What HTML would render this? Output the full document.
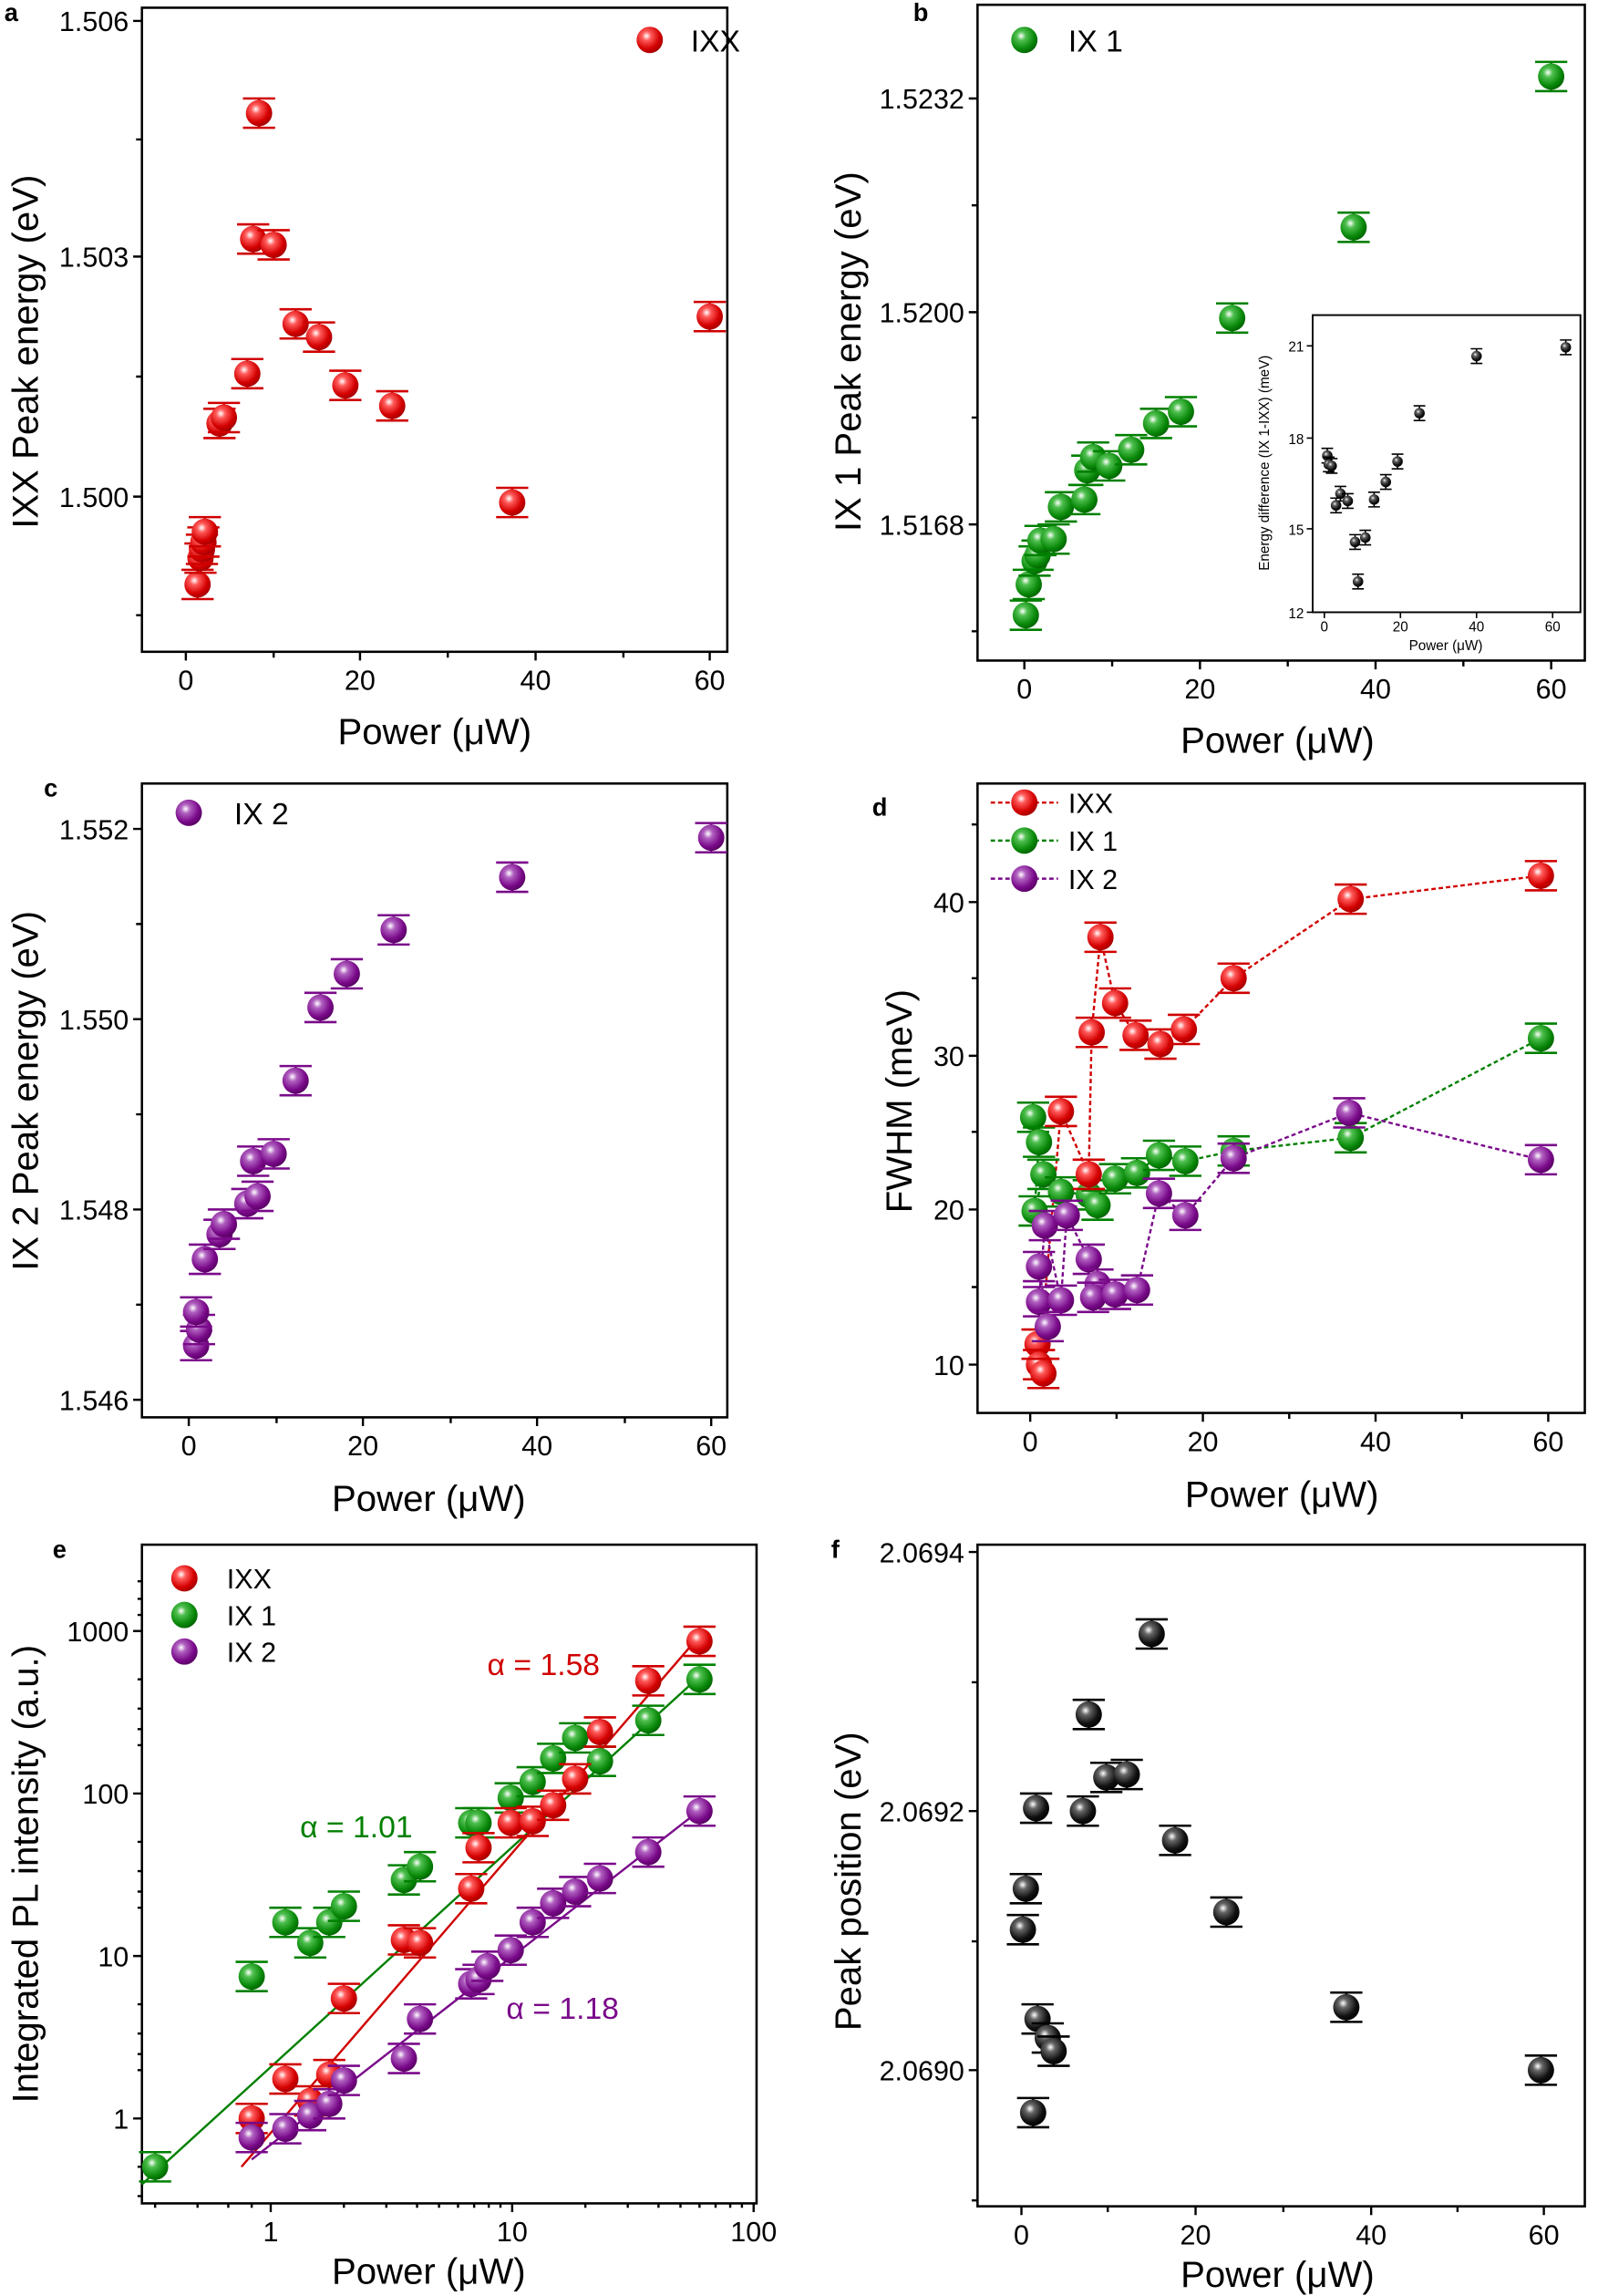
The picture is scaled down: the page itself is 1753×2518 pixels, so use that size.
<!DOCTYPE html>
<html><head><meta charset="utf-8"><style>
html,body{margin:0;padding:0;background:#fff}
svg{display:block}
text{font-family:"Liberation Sans",Arial,sans-serif;fill:#000}
</style></head><body>
<svg width="1753" height="2518" viewBox="0 0 1092 1568" xmlns="http://www.w3.org/2000/svg">
<defs>
<radialGradient id="gR" cx="0.38" cy="0.35" r="0.7"><stop offset="0" stop-color="#fff"/><stop offset="0.25" stop-color="#ff5a5a"/><stop offset="0.7" stop-color="#d40000"/><stop offset="1" stop-color="#a00000"/></radialGradient>
<radialGradient id="gG" cx="0.38" cy="0.35" r="0.7"><stop offset="0" stop-color="#fff"/><stop offset="0.25" stop-color="#4fbf4f"/><stop offset="0.7" stop-color="#0a8a0a"/><stop offset="1" stop-color="#006000"/></radialGradient>
<radialGradient id="gP" cx="0.38" cy="0.35" r="0.7"><stop offset="0" stop-color="#fff"/><stop offset="0.25" stop-color="#b060c0"/><stop offset="0.7" stop-color="#7a0a8a"/><stop offset="1" stop-color="#55005f"/></radialGradient>
<radialGradient id="gK" cx="0.38" cy="0.35" r="0.7"><stop offset="0" stop-color="#fff"/><stop offset="0.25" stop-color="#666"/><stop offset="0.7" stop-color="#111"/><stop offset="1" stop-color="#000"/></radialGradient>
<g id="bR"><path d="M-11,-10h22M0,-10v20M-11,10h22" stroke="#d00000" stroke-width="1.6" fill="none"/><circle r="9" fill="url(#gR)"/></g>
<g id="bG"><path d="M-11,-10h22M0,-10v20M-11,10h22" stroke="#008000" stroke-width="1.6" fill="none"/><circle r="9" fill="url(#gG)"/></g>
<g id="bP"><path d="M-11,-10h22M0,-10v20M-11,10h22" stroke="#7a0a8a" stroke-width="1.6" fill="none"/><circle r="9" fill="url(#gP)"/></g>
<g id="bK"><path d="M-11,-10h22M0,-10v20M-11,10h22" stroke="#000" stroke-width="1.6" fill="none"/><circle r="9" fill="url(#gK)"/></g>
<g id="sK"><path d="M-4,-5h8M0,-5v10M-4,5h8" stroke="#000" stroke-width="1" fill="none"/><circle r="3.6" fill="url(#gK)"/></g>
<circle id="lR" r="9" fill="url(#gR)"/><circle id="lG" r="9" fill="url(#gG)"/><circle id="lP" r="9" fill="url(#gP)"/>
</defs>
<g stroke="#000" stroke-width="1.6" fill="none">
<rect x="97" y="5" width="400" height="440"/>
<rect x="668" y="3" width="415" height="448"/>
<rect x="97" y="535" width="400" height="433"/>
<rect x="668" y="535" width="415" height="430"/>
<rect x="97" y="1055" width="420" height="450"/>
<rect x="668" y="1055" width="415" height="452"/>
<rect x="897" y="215" width="183" height="203" stroke-width="1.2"/>
</g>
<g stroke="#000" stroke-width="1.5">
<path d="M127,445v6M246,445v6M366,445v6M485,445v6M187,445v4M306,445v4M426,445v4M97,14h-6M97,175h-6M97,339h-6M97,95h-4M97,257h-4M97,420h-4"/>
<path d="M700,451v6M820,451v6M940,451v6M1060,451v6M760,451v4M880,451v4M1000,451v4M668,67h-6M668,213h-6M668,358h-6M668,140h-4M668,285h-4M668,431h-4"/>
<path d="M905,418v4M957,418v4M1009,418v4M1061,418v4M897,236h-4M897,299h-4M897,361h-4M897,418h-4" stroke-width="1"/>
<path d="M129,968v6M248,968v6M367,968v6M486,968v6M189,968v4M308,968v4M427,968v4M97,566h-6M97,696h-6M97,826h-6M97,956h-6M97,631h-4M97,761h-4M97,891h-4"/>
<path d="M704,965v6M822,965v6M940,965v6M1058,965v6M763,965v4M881,965v4M999,965v4M668,616h-6M668,721h-6M668,826h-6M668,932h-6M668,563h-4M668,668h-4M668,773h-4M668,879h-4"/>
<path d="M185,1505v6M350,1505v6M515,1505v6M106,1505v3M135,1505v3M156,1505v3M172,1505v3M235,1505v3M264,1505v3M285,1505v3M300,1505v3M313,1505v3M324,1505v3M334,1505v3M342,1505v3M400,1505v3M429,1505v3M450,1505v3M465,1505v3M478,1505v3M489,1505v3M499,1505v3M507,1505v3M97,1114h-6M97,1225h-6M97,1336h-6M97,1447h-6M97,1080h-3M97,1092h-3M97,1103h-3M97,1147h-3M97,1167h-3M97,1181h-3M97,1192h-3M97,1258h-3M97,1278h-3M97,1292h-3M97,1303h-3M97,1369h-3M97,1389h-3M97,1403h-3M97,1414h-3M97,1480h-3M97,1500h-3"/>
<path d="M698,1507v6M817,1507v6M937,1507v6M1055,1507v6M757,1507v4M877,1507v4M996,1507v4M668,1060h-6M668,1237h-6M668,1414h-6M668,1149h-4M668,1326h-4M668,1503h-4"/>
</g>
<g font-size="19" text-anchor="middle">
<text x="127" y="471">0</text><text x="246" y="471">20</text><text x="366" y="471">40</text><text x="485" y="471">60</text>
<text x="700" y="477">0</text><text x="820" y="477">20</text><text x="940" y="477">40</text><text x="1060" y="477">60</text>
<text x="129" y="994">0</text><text x="248" y="994">20</text><text x="367" y="994">40</text><text x="486" y="994">60</text>
<text x="704" y="991">0</text><text x="822" y="991">20</text><text x="940" y="991">40</text><text x="1058" y="991">60</text>
<text x="185" y="1531">1</text><text x="350" y="1531">10</text><text x="515" y="1531">100</text>
<text x="698" y="1533">0</text><text x="817" y="1533">20</text><text x="937" y="1533">40</text><text x="1055" y="1533">60</text>
</g>
<g font-size="19" text-anchor="end">
<text x="88" y="21">1.506</text><text x="88" y="182">1.503</text><text x="88" y="346">1.500</text>
<text x="659" y="74">1.5232</text><text x="659" y="220">1.5200</text><text x="659" y="365">1.5168</text>
<text x="88" y="573">1.552</text><text x="88" y="703">1.550</text><text x="88" y="833">1.548</text><text x="88" y="963">1.546</text>
<text x="659" y="623">40</text><text x="659" y="728">30</text><text x="659" y="833">20</text><text x="659" y="939">10</text>
<text x="88" y="1121">1000</text><text x="88" y="1232">100</text><text x="88" y="1343">10</text><text x="88" y="1454">1</text>
<text x="659" y="1067">2.0694</text><text x="659" y="1244">2.0692</text><text x="659" y="1421">2.0690</text>
</g>
<g font-size="9.5">
<text x="905" y="431" text-anchor="middle">0</text><text x="957" y="431" text-anchor="middle">20</text><text x="1009" y="431" text-anchor="middle">40</text><text x="1061" y="431" text-anchor="middle">60</text>
<text x="891" y="240" text-anchor="end">21</text><text x="891" y="303" text-anchor="end">18</text><text x="891" y="365" text-anchor="end">15</text><text x="891" y="422" text-anchor="end">12</text>
<text x="988" y="444" text-anchor="middle">Power (μW)</text>
<text transform="translate(867,316) rotate(-90)" text-anchor="middle">Energy difference (IX 1-IXX) (meV)</text>
</g>
<g font-size="25" text-anchor="middle">
<text x="297" y="508">Power (μW)</text>
<text x="873" y="514">Power (μW)</text>
<text x="293" y="1032">Power (μW)</text>
<text x="876" y="1029">Power (μW)</text>
<text x="293" y="1560">Power (μW)</text>
<text x="873" y="1562">Power (μW)</text>
<text transform="translate(26,240) rotate(-90)">IXX Peak energy (eV)</text>
<text transform="translate(588,240) rotate(-90)">IX 1 Peak energy (eV)</text>
<text transform="translate(26,745) rotate(-90)">IX 2 Peak energy (eV)</text>
<text transform="translate(623,752) rotate(-90)">FWHM (meV)</text>
<text transform="translate(26,1280) rotate(-90)">Integrated PL intensity (a.u.)</text>
<text transform="translate(588,1285) rotate(-90)">Peak position (eV)</text>
</g>
<g font-size="17" font-weight="bold">
<text x="3" y="14">a</text><text x="624" y="14">b</text><text x="30" y="544">c</text><text x="596" y="557">d</text><text x="36" y="1064">e</text><text x="568" y="1064">f</text>
</g>
<use href="#lR" x="444" y="27"/><text x="472" y="35" font-size="21">IXX</text>
<use href="#lG" x="700" y="27"/><text x="730" y="35" font-size="21">IX 1</text>
<use href="#lP" x="129" y="555"/><text x="160" y="563" font-size="21">IX 2</text>
<path d="M677,548h46" stroke="#d00000" stroke-width="1.5" stroke-dasharray="3,2"/><use href="#lR" x="700" y="548"/><text x="730" y="555" font-size="19">IXX</text>
<path d="M677,574h46" stroke="#008000" stroke-width="1.5" stroke-dasharray="3,2"/><use href="#lG" x="700" y="574"/><text x="730" y="581" font-size="19">IX 1</text>
<path d="M677,600h46" stroke="#7a0a8a" stroke-width="1.5" stroke-dasharray="3,2"/><use href="#lP" x="700" y="600"/><text x="730" y="607" font-size="19">IX 2</text>
<use href="#lR" x="126" y="1078"/><text x="155" y="1085" font-size="19">IXX</text>
<use href="#lG" x="126" y="1103"/><text x="155" y="1110" font-size="19">IX 1</text>
<use href="#lP" x="126" y="1128"/><text x="155" y="1135" font-size="19">IX 2</text>
<use href="#bR" x="135" y="399"/><use href="#bR" x="137" y="381"/><use href="#bR" x="138" y="375"/><use href="#bR" x="139" y="370"/><use href="#bR" x="140" y="363"/><use href="#bR" x="150" y="289"/><use href="#bR" x="153" y="285"/><use href="#bR" x="169" y="255"/><use href="#bR" x="177" y="77"/><use href="#bR" x="173" y="163"/><use href="#bR" x="187" y="167"/><use href="#bR" x="202" y="221"/><use href="#bR" x="218" y="230"/><use href="#bR" x="236" y="263"/><use href="#bR" x="268" y="277"/><use href="#bR" x="350" y="343"/><use href="#bR" x="485" y="216"/>
<use href="#bG" x="701" y="420"/><use href="#bG" x="703" y="399"/><use href="#bG" x="707" y="383"/><use href="#bG" x="709" y="379"/><use href="#bG" x="711" y="369"/><use href="#bG" x="720" y="368"/><use href="#bG" x="725" y="346"/><use href="#bG" x="741" y="341"/><use href="#bG" x="743" y="321"/><use href="#bG" x="747" y="312"/><use href="#bG" x="758" y="318"/><use href="#bG" x="773" y="307"/><use href="#bG" x="790" y="289"/><use href="#bG" x="807" y="281"/><use href="#bG" x="842" y="217"/><use href="#bG" x="925" y="155"/><use href="#bG" x="1060" y="52"/>
<use href="#sK" x="907" y="311"/><use href="#sK" x="908" y="317"/><use href="#sK" x="910" y="318"/><use href="#sK" x="916" y="337"/><use href="#sK" x="913" y="345"/><use href="#sK" x="921" y="342"/><use href="#sK" x="926" y="370"/><use href="#sK" x="928" y="397"/><use href="#sK" x="933" y="367"/><use href="#sK" x="939" y="341"/><use href="#sK" x="947" y="329"/><use href="#sK" x="955" y="315"/><use href="#sK" x="970" y="282"/><use href="#sK" x="1009" y="243"/><use href="#sK" x="1070" y="237"/>
<use href="#bP" x="134" y="919"/><use href="#bP" x="136" y="908"/><use href="#bP" x="134" y="896"/><use href="#bP" x="140" y="860"/><use href="#bP" x="150" y="843"/><use href="#bP" x="153" y="836"/><use href="#bP" x="169" y="822"/><use href="#bP" x="176" y="817"/><use href="#bP" x="173" y="793"/><use href="#bP" x="187" y="788"/><use href="#bP" x="202" y="738"/><use href="#bP" x="219" y="688"/><use href="#bP" x="237" y="665"/><use href="#bP" x="269" y="635"/><use href="#bP" x="350" y="599"/><use href="#bP" x="486" y="572"/>
<g fill="none" stroke-width="1.5" stroke-dasharray="3,2">
<polyline stroke="#d00000" points="709,918 713,938 710,932 725,759 744,802 746,705 752,640 762,685 776,707 793,713 809,703 843,668 923,614 1053,598"/>
<polyline stroke="#008000" points="706,763 710,780 707,827 713,802 725,814 744,816 750,823 762,805 777,801 792,789 810,793 843,786 923,777 1053,709"/>
<polyline stroke="#7a0a8a" points="710,865 716,906 710,889 714,837 725,888 729,830 744,860 747,886 750,877 762,884 777,881 792,815 810,830 843,791 922,760 1053,792"/>
</g>
<use href="#bG" x="706" y="763"/><use href="#bG" x="710" y="780"/><use href="#bG" x="713" y="802"/><use href="#bG" x="725" y="814"/><use href="#bG" x="707" y="827"/><use href="#bG" x="744" y="816"/><use href="#bG" x="750" y="823"/><use href="#bG" x="762" y="805"/><use href="#bG" x="777" y="801"/><use href="#bG" x="792" y="789"/><use href="#bG" x="810" y="793"/><use href="#bG" x="843" y="786"/><use href="#bG" x="923" y="777"/><use href="#bG" x="1053" y="709"/>
<use href="#bR" x="709" y="918"/><use href="#bR" x="710" y="932"/><use href="#bR" x="713" y="938"/><use href="#bR" x="725" y="759"/><use href="#bR" x="744" y="802"/><use href="#bR" x="746" y="705"/><use href="#bR" x="752" y="640"/><use href="#bR" x="762" y="685"/><use href="#bR" x="776" y="707"/><use href="#bR" x="793" y="713"/><use href="#bR" x="809" y="703"/><use href="#bR" x="843" y="668"/><use href="#bR" x="923" y="614"/><use href="#bR" x="1053" y="598"/>
<use href="#bP" x="714" y="837"/><use href="#bP" x="710" y="865"/><use href="#bP" x="710" y="889"/><use href="#bP" x="725" y="888"/><use href="#bP" x="716" y="906"/><use href="#bP" x="729" y="830"/><use href="#bP" x="744" y="860"/><use href="#bP" x="750" y="877"/><use href="#bP" x="747" y="886"/><use href="#bP" x="762" y="884"/><use href="#bP" x="777" y="881"/><use href="#bP" x="792" y="815"/><use href="#bP" x="810" y="830"/><use href="#bP" x="843" y="791"/><use href="#bP" x="922" y="760"/><use href="#bP" x="1053" y="792"/>
<g stroke-width="1.5" fill="none">
<line x1="97" y1="1492" x2="478" y2="1145" stroke="#008000"/>
<line x1="165" y1="1480" x2="480" y2="1115" stroke="#d00000"/>
<line x1="172" y1="1475" x2="480" y2="1235" stroke="#7a0a8a"/>
</g>
<use href="#bG" x="106" y="1480"/><use href="#bG" x="172" y="1350"/><use href="#bG" x="195" y="1313"/><use href="#bG" x="212" y="1327"/><use href="#bG" x="225" y="1313"/><use href="#bG" x="235" y="1302"/><use href="#bG" x="276" y="1284"/><use href="#bG" x="287" y="1275"/><use href="#bG" x="322" y="1245"/><use href="#bG" x="327" y="1245"/><use href="#bG" x="349" y="1228"/><use href="#bG" x="364" y="1217"/><use href="#bG" x="378" y="1201"/><use href="#bG" x="393" y="1187"/><use href="#bG" x="410" y="1203"/><use href="#bG" x="443" y="1175"/><use href="#bG" x="478" y="1147"/>
<use href="#bR" x="172" y="1447"/><use href="#bR" x="195" y="1420"/><use href="#bR" x="212" y="1435"/><use href="#bR" x="225" y="1417"/><use href="#bR" x="235" y="1365"/><use href="#bR" x="276" y="1325"/><use href="#bR" x="287" y="1327"/><use href="#bR" x="322" y="1290"/><use href="#bR" x="327" y="1262"/><use href="#bR" x="349" y="1245"/><use href="#bR" x="364" y="1244"/><use href="#bR" x="378" y="1233"/><use href="#bR" x="393" y="1215"/><use href="#bR" x="410" y="1183"/><use href="#bR" x="443" y="1148"/><use href="#bR" x="478" y="1121"/>
<use href="#bP" x="172" y="1460"/><use href="#bP" x="195" y="1454"/><use href="#bP" x="212" y="1445"/><use href="#bP" x="225" y="1437"/><use href="#bP" x="235" y="1421"/><use href="#bP" x="276" y="1406"/><use href="#bP" x="287" y="1379"/><use href="#bP" x="322" y="1355"/><use href="#bP" x="327" y="1352"/><use href="#bP" x="333" y="1343"/><use href="#bP" x="349" y="1332"/><use href="#bP" x="364" y="1313"/><use href="#bP" x="378" y="1300"/><use href="#bP" x="393" y="1292"/><use href="#bP" x="410" y="1283"/><use href="#bP" x="443" y="1265"/><use href="#bP" x="478" y="1237"/>
<text x="333" y="1144" font-size="21" style="fill:#d00000">α = 1.58</text>
<text x="205" y="1255" font-size="21" style="fill:#008000">α = 1.01</text>
<text x="346" y="1379" font-size="21" style="fill:#7a0a8a">α = 1.18</text>
<use href="#bK" x="699" y="1318"/><use href="#bK" x="701" y="1290"/><use href="#bK" x="706" y="1443"/><use href="#bK" x="708" y="1235"/><use href="#bK" x="709" y="1379"/><use href="#bK" x="716" y="1392"/><use href="#bK" x="720" y="1401"/><use href="#bK" x="740" y="1237"/><use href="#bK" x="744" y="1171"/><use href="#bK" x="756" y="1214"/><use href="#bK" x="770" y="1212"/><use href="#bK" x="787" y="1116"/><use href="#bK" x="803" y="1257"/><use href="#bK" x="838" y="1306"/><use href="#bK" x="920" y="1371"/><use href="#bK" x="1053" y="1414"/>
</svg>
</body></html>
